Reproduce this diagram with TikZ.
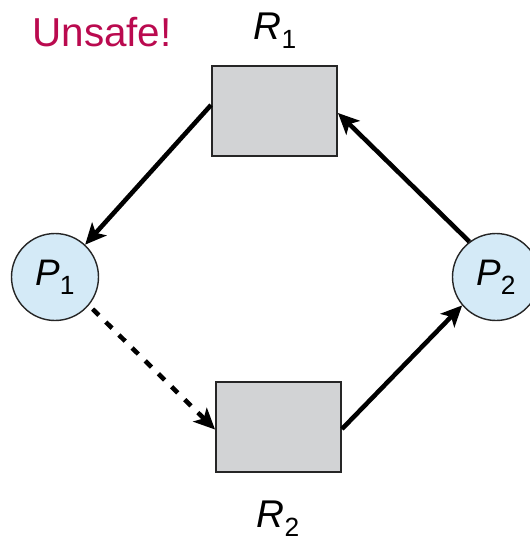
\documentclass[tikz,border=0pt]{standalone}
\usepackage{fontspec}
\setmainfont{Liberation Sans}
\usetikzlibrary{arrows.meta}
\definecolor{unsafered}{HTML}{BA0A4F}
\definecolor{resgray}{HTML}{D2D3D5}
\definecolor{procblue}{HTML}{D4EAF7}
\newcommand{\lblsub}[2]{\textit{#1}\raisebox{-0.45ex}{\fontsize{15}{15}\selectfont #2}}

\begin{document}
\begin{tikzpicture}[line width=0.8pt,
    res/.style={draw=black!85, fill=resgray, line width=1.1pt, minimum width=2.5cm, minimum height=1.8cm, inner sep=0pt},
    proc/.style={circle, draw=black!85, fill=procblue, minimum size=1.74cm, inner sep=0pt, font=\fontsize{21}{21}\selectfont},
    lbl/.style={font=\fontsize{22}{22}\selectfont},
    edge/.style={line width=2.6pt, -{Stealth[length=12pt, width=11pt, inset=3pt]}}]
    \useasboundingbox (0,0) rectangle (10.6,-10.82);
    \begin{scope}
      \clip (0,0) rectangle (10.6,-10.82);
      \node[res] (R1) at (5.49,-2.22) {};
      \node[res] (R2) at (5.57,-8.54) {};
      \node[proc] (P1) at (1.1,-5.54) {\lblsub{P}{1}};
      \node[proc] (P2) at (9.92,-5.54) {\lblsub{P}{2}};
      \node[lbl] (R1l) at (5.5,-0.62) {\lblsub{R}{1}};
      \node[lbl] (R2l) at (5.56,-10.38) {\lblsub{R}{2}};
      \node[font=\fontsize{23}{23}\selectfont, text=unsafered] (warn) at (2.04,-0.64) {Unsafe!};
      % request and assignment edges
      \draw[edge] ([yshift=0.12cm]R1.west) -- (P1.47);
      \draw[edge] (P2.127) -- ([yshift=-0.04cm]R1.east);
      \draw[edge] ([yshift=-0.04cm]R2.east) -- (P2.220);
      \draw[edge, dash pattern=on 5pt off 5.5pt, shorten <=3pt] (P1.-40) -- ([yshift=-0.05cm]R2.west);
    \end{scope}
  \end{tikzpicture}
\end{document}
